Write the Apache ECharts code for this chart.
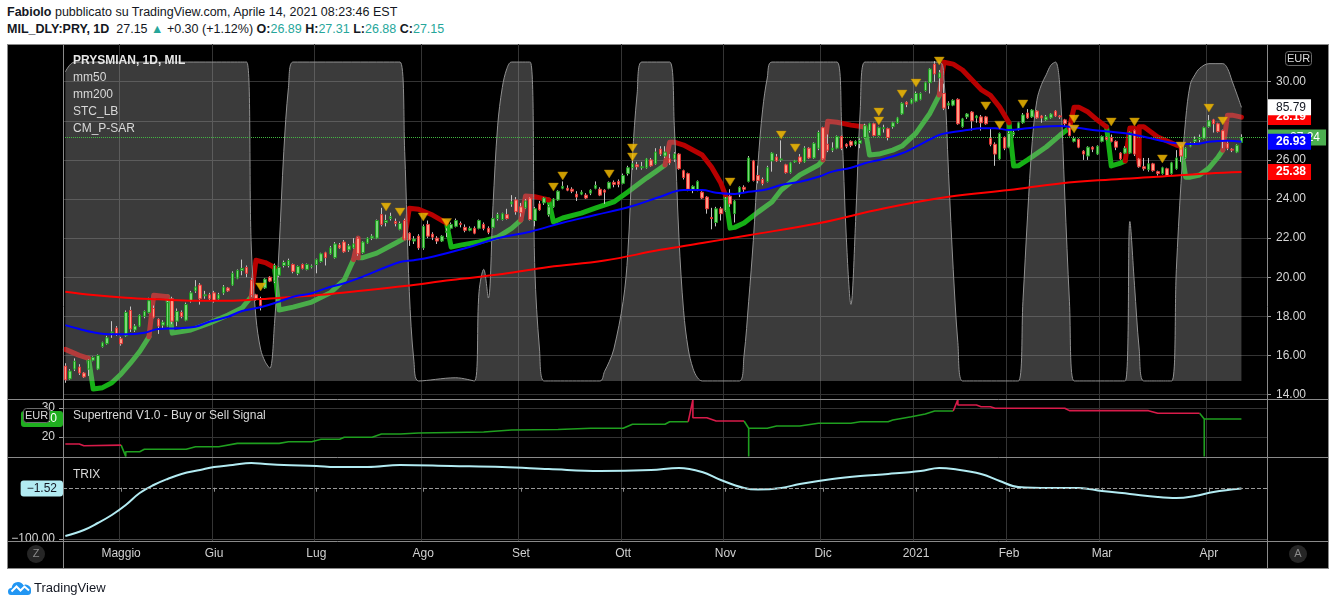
<!DOCTYPE html>
<html>
<head>
<meta charset="utf-8">
<title>PRYSMIAN 1D</title>
<script src="https://cdn.jsdelivr.net/npm/echarts@6/dist/echarts.min.js"></script>
<style>
 html,body{margin:0;padding:0;background:#fff;}
 body{width:1336px;height:606px;overflow:hidden;position:relative;font-family:'Liberation Sans',Arial,sans-serif;}
 .hdr{position:absolute;left:7px;font-size:12.5px;line-height:16px;color:#131722;white-space:nowrap;}
 .t{color:#26a69a;}
 #frame{position:absolute;left:7px;top:44px;width:1322px;height:525px;background:#000;box-sizing:border-box;border:1px solid #8a8a8a;}
 #chart{position:absolute;left:0;top:0;width:1336px;height:606px;}
 #foot{position:absolute;left:8px;top:578px;height:18px;display:flex;align-items:center;font-size:13px;color:#131722;}
</style>
</head>
<body>
<div class="hdr" style="top:4px"><b>Fabiolo</b> pubblicato su TradingView.com, Aprile 14, 2021 08:23:46 EST</div>
<div class="hdr" style="top:21px"><b>MIL_DLY:PRY, 1D</b>&nbsp; 27.15 <span class="t">&#9650;</span> +0.30 (+1.12%) <b>O:</b><span class="t">26.89</span> <b>H:</b><span class="t">27.31</span> <b>L:</b><span class="t">26.88</span> <b>C:</b><span class="t">27.15</span></div>
<div id="frame"></div>
<div id="chart"></div>
<div id="foot"><svg width="24" height="17" viewBox="0 0 24 17"><path d="M3 16 Q0 16 0 12.5 Q0 9 3.5 9 Q4.5 3 10 3 Q14 3 15.5 6.5 Q17 5 19.5 6 Q23.5 7.5 23 11.5 Q23.5 16 19.5 16 Z" fill="#2196f3"/><polyline points="3.5,12.5 8.5,7.5 12.5,11.5 16.5,7.5 21,11.5" fill="none" stroke="#fff" stroke-width="2"/></svg><span style="margin-left:2px">TradingView</span></div>
<script>
// ---------- categories: trading days ----------
const apr20=[15,16,17,20,21,22,23,24,27,28,29,30];
const may20=[4,5,6,7,8,11,12,13,14,15,18,19,20,21,22,25,26,27,28,29];
const jun20=[1,2,3,4,5,8,9,10,11,12,15,16,17,18,19,22,23,24,25,26,29,30];
const jul20=[1,2,3,6,7,8,9,10,13,14,15,16,17,20,21,22,23,24,27,28,29,30,31];
const aug20=[3,4,5,6,7,10,11,12,13,14,17,18,19,20,21,24,25,26,27,28,31];
const sep20=[1,2,3,4,7,8,9,10,11,14,15,16,17,18,21,22,23,24,25,28,29,30];
const oct20=[1,2,5,6,7,8,9,12,13,14,15,16,19,20,21,22,23,26,27,28,29,30];
const nov20=[2,3,4,5,6,9,10,11,12,13,16,17,18,19,20,23,24,25,26,27,30];
const dec20=[1,2,3,4,7,8,9,10,11,14,15,16,17,18,21,22,23,28,29,30];
const jan21=[4,5,6,7,8,11,12,13,14,15,18,19,20,21,22,25,26,27,28,29];
const feb21=[1,2,3,4,5,8,9,10,11,12,15,16,17,18,19,22,23,24,25,26];
const mar21=[1,2,3,4,5,8,9,10,11,12,15,16,17,18,19,22,23,24,25,26,29,30,31];
const apr21=[1,6,7,8,9,12,13,14];
const monthLabels=['2021','Feb','Mar','Apr','Maggio','Giu','Lug','Ago','Set','Ott','Nov','Dic'];
const priceTicks=[14,16,18,20,22,24,26,28,30];

// ---------- OHLC ----------
const open=[15.45,14.8,15.3,15.4,15.1,15.3,15.75,15.3,16.45,16.6,
17.15,17.4,16.85,17.0,18.3,17.3,17.5,18.0,18.2,18.4,
17.85,17.55,17.5,18.9,17.75,18.2,17.8,18.8,19.3,19.6,
19.05,19.1,19.2,18.9,19.2,19.45,19.6,19.95,20.35,20.5,
19.85,19.1,18.9,19.45,20.0,19.8,20.1,20.6,20.6,20.65,
20.2,20.65,20.4,20.53,20.65,20.8,21.25,21.2,21.0,21.65,
21.8,21.4,21.5,22.0,21.25,21.75,22.0,22.0,23.2,22.8,
23.0,22.85,22.45,22.9,22.25,21.85,22.1,21.5,22.7,22.2,
22.0,21.85,22.3,22.5,22.6,22.75,22.55,22.4,22.5,22.5,
22.7,22.5,22.55,23.0,22.95,23.2,23.75,23.95,23.6,23.55,
24.05,22.9,23.75,23.8,23.2,23.6,23.95,24.55,24.55,24.5,
24.25,24.25,24.2,24.3,24.55,24.5,24.45,24.55,24.85,24.9,
24.8,25.3,25.6,25.75,25.6,25.6,26.0,25.8,26.55,26.2,
26.05,26.05,26.3,25.45,25.3,24.45,24.45,24.35,24.1,23.05,
22.8,23.5,23.4,24.15,23.25,24.25,24.6,24.9,25.95,25.2,
25.0,24.9,25.95,26.15,26.0,25.75,25.35,25.9,26.15,25.9,
26.6,26.1,26.6,27.65,26.8,26.5,26.6,27.2,26.8,26.95,
26.8,26.85,27.15,27.5,27.85,27.25,27.6,27.6,27.7,27.9,
28.35,28.95,28.9,29.0,29.1,29.55,29.95,30.9,30.2,29.4,
28.8,28.8,29.1,27.7,28.2,28.45,28.15,28.2,28.2,27.1,
26.8,26.05,27.15,26.65,27.3,27.6,27.9,28.4,28.2,28.5,
28.25,28.05,28.15,28.5,28.25,28.05,27.85,26.95,27.05,26.45,
26.2,26.65,26.3,26.95,27.15,27.15,26.95,26.35,26.35,26.35,
27.5,26.05,25.65,25.5,25.8,25.4,25.3,25.55,25.3,25.55,
26.6,26.1,26.7,26.95,27.05,27.1,27.7,28.05,27.85,27.5,
26.85,26.55,26.4,26.89];
const close=[14.75,15.2,15.7,15.1,14.9,15.75,15.9,16.0,16.65,16.9,
17.2,17.1,16.6,18.2,17.35,17.5,18.05,18.25,18.8,17.95,
17.5,17.7,18.7,17.75,18.25,18.0,18.6,19.2,19.5,18.9,
19.1,18.9,18.8,19.1,19.5,19.3,20.2,20.35,20.45,20.2,
19.1,18.9,18.55,19.9,19.8,20.6,20.5,20.75,20.85,20.3,
20.55,20.45,20.65,20.57,20.9,21.2,21.0,21.5,21.7,21.5,
21.3,21.6,21.7,21.2,21.8,22.0,22.1,22.9,22.7,22.9,
23.1,22.75,22.75,21.95,21.9,21.95,21.5,22.6,22.1,22.05,
21.85,22.1,22.35,22.7,22.9,22.7,22.4,22.5,22.25,22.9,
22.5,22.3,23.0,23.2,23.25,23.0,23.85,23.35,23.3,23.9,
22.95,23.5,23.45,24.05,23.6,24.0,24.4,24.65,24.45,24.4,
24.1,24.35,24.05,24.45,24.7,24.2,24.35,24.85,24.75,24.75,
25.2,25.6,25.8,25.65,25.65,26.05,25.7,26.4,26.3,26.4,
25.85,26.3,25.55,25.1,24.5,24.65,24.9,24.05,23.5,23.0,
23.5,23.25,24.0,23.75,23.9,24.6,24.5,26.1,24.95,24.95,
24.8,25.6,26.35,25.95,26.05,25.35,25.85,25.95,25.9,26.6,
26.1,26.85,27.4,26.05,26.5,26.6,27.2,26.6,26.7,26.75,
26.95,27.0,27.75,27.85,27.25,27.65,27.65,27.15,27.9,28.15,
28.9,28.85,29.1,29.4,29.4,29.95,30.65,30.4,30.45,28.65,
28.9,29.05,27.85,28.1,28.35,28.0,28.25,27.9,27.85,26.8,
26.3,27.35,26.6,27.35,27.4,27.9,28.3,28.15,28.55,28.15,
28.15,28.2,28.35,28.25,28.2,27.85,27.25,27.1,26.65,26.3,
26.65,26.55,26.7,27.2,27.05,26.95,26.65,26.05,26.6,27.4,
26.3,25.65,25.55,25.8,25.45,25.3,25.6,25.2,25.85,26.1,
26.2,26.6,26.85,27.05,27.15,27.65,28.0,27.85,27.45,26.95,
26.6,26.5,26.75,27.15];
const low=[14.6,14.75,15.2,15.0,14.85,14.95,15.7,15.25,16.4,16.55,
16.9,17.0,16.5,16.95,17.2,17.2,17.45,17.9,18.15,17.9,
17.1,17.4,17.45,17.6,17.5,17.9,17.75,18.7,19.2,18.6,
18.9,18.8,18.7,18.85,19.1,19.25,19.55,19.9,20.1,20.0,
19.0,18.8,18.3,19.4,19.75,19.7,20.0,20.5,20.5,20.2,
20.1,20.4,20.35,20.45,20.2,20.75,20.6,21.15,20.95,21.45,
21.25,21.3,21.45,21.1,21.2,21.7,21.9,21.95,22.6,22.6,
22.9,22.6,22.4,21.9,21.6,21.7,21.4,21.4,22.0,21.9,
21.7,21.8,22.05,22.45,22.55,22.55,22.3,22.35,22.2,22.45,
22.4,22.2,22.5,22.9,22.9,22.95,23.6,23.2,23.1,23.5,
22.9,22.6,23.4,23.7,23.1,23.55,23.9,24.5,24.4,24.3,
23.9,24.2,24.0,24.2,24.5,24.15,23.75,24.5,24.6,24.6,
24.75,25.2,25.5,25.5,25.5,25.55,25.65,25.75,26.2,26.1,
25.75,25.9,25.5,25.0,24.4,24.3,24.4,24.0,23.25,22.45,
22.6,22.9,23.35,23.6,22.8,24.1,24.3,24.85,24.9,24.8,
24.7,24.85,25.4,25.9,25.9,25.3,25.3,25.85,25.8,25.85,
26.05,26.05,26.5,26.0,26.4,26.4,26.55,26.5,26.6,26.65,
26.7,26.6,27.1,27.4,27.2,27.2,27.4,27.0,27.6,27.85,
28.3,28.7,28.85,28.95,29.05,29.5,29.4,30.0,29.5,28.55,
28.6,28.75,27.8,27.65,28.1,27.5,27.9,27.5,27.8,26.7,
25.7,26.0,26.5,26.6,27.2,27.5,27.85,28.1,28.15,28.1,
27.9,28.0,28.1,28.2,28.1,27.7,27.2,26.9,26.6,26.0,
26.0,26.4,26.25,26.9,27.0,26.9,26.5,26.0,26.3,26.3,
26.2,25.6,25.45,25.4,25.4,25.2,25.25,25.15,25.25,25.5,
25.9,26.05,26.65,26.85,26.9,27.05,27.65,27.4,27.4,26.6,
26.5,26.4,26.35,26.88];
const high=[15.6,15.3,15.85,15.55,15.15,15.8,15.95,16.05,16.7,17.0,
17.75,17.5,16.95,18.3,18.5,17.6,18.1,18.3,18.95,18.55,
17.9,17.8,18.8,19.0,18.4,18.3,18.7,19.3,19.85,19.7,
19.3,19.2,19.3,19.2,19.6,19.5,20.3,20.4,20.9,20.6,
19.95,19.15,19.0,19.95,20.05,20.7,20.55,20.85,20.95,20.7,
20.6,20.7,20.7,20.65,20.95,21.25,21.3,21.6,21.8,21.75,
21.9,21.7,22.0,22.05,21.85,22.05,22.2,22.95,23.55,23.2,
23.3,23.0,22.85,23.0,22.3,22.1,22.2,22.7,22.9,22.3,
22.1,22.15,22.5,22.8,23.0,22.85,22.7,22.6,22.6,22.95,
22.8,22.6,23.05,23.3,23.3,23.5,24.2,24.1,23.8,24.0,
24.1,23.6,23.9,24.1,23.7,24.05,24.45,24.9,24.7,24.6,
24.4,24.45,24.3,24.5,24.9,24.6,24.5,24.9,24.95,25.0,
25.3,25.7,26.0,25.9,25.9,26.1,26.1,26.6,26.7,26.7,
26.3,26.4,26.35,25.5,25.35,24.7,24.95,24.4,24.15,23.55,
23.6,23.6,24.1,24.5,23.95,24.65,24.7,26.2,26.0,25.7,
25.1,25.7,26.4,26.3,27.0,25.8,25.9,26.0,26.3,26.7,
26.65,26.9,27.5,27.7,27.3,26.9,27.25,27.25,26.85,27.0,
27.0,27.1,27.85,27.9,27.9,27.7,27.8,27.65,27.95,28.2,
28.95,29.0,29.15,29.5,29.45,30.0,30.7,31.05,30.6,29.9,
29.0,29.1,29.15,28.15,28.4,28.5,28.3,28.3,28.25,27.6,
26.9,27.4,27.2,27.45,27.5,27.95,28.4,28.6,28.6,28.55,
28.3,28.3,28.4,28.55,28.3,28.1,27.9,27.2,27.1,26.5,
26.7,26.7,26.75,27.25,27.2,27.3,27.0,26.4,26.7,27.45,
27.55,26.1,26.1,26.1,25.85,25.45,25.65,25.6,25.9,26.5,
26.7,26.65,26.9,27.2,27.3,27.7,28.3,28.1,27.9,27.55,
27.0,26.6,26.8,27.31];

// ---------- overlays: [barIndex, value] ----------
const mm50=[[0,17.55],[3,17.35],[6,17.18],[10,17.08],[13,17.08],[17,17.16],[20,17.35],[24,17.39],[28,17.47],[31,17.72],[35,17.98],[38,18.27],[42,18.46],[46,18.75],[49,19.0],[53,19.18],[56,19.43],[60,19.69],[63,19.94],[72,20.78],[75,20.87],[79,21.05],[86,21.48],[93,21.99],[100,22.33],[107,22.79],[114,23.18],[122,23.64],[128,24.12],[133,24.46],[137,24.46],[140,24.32],[144,24.26],[147,24.37],[151,24.5],[154,24.72],[158,24.88],[162,25.14],[165,25.4],[169,25.6],[172,25.83],[176,26.05],[180,26.34],[183,26.68],[186,27.05],[188,27.28],[190,27.39],[194,27.53],[197,27.62],[200,27.62],[203,27.53],[207,27.62],[210,27.7],[214,27.73],[216,27.7],[221,27.53],[225,27.44],[228,27.36],[232,27.19],[235,27.02],[239,26.85],[243,26.81],[246,26.93],[250,26.98],[253,26.93]];
const mm200=[[0,19.26],[6,19.09],[13,18.95],[20,18.87],[28,18.8],[35,18.8],[42,18.88],[49,19.0],[56,19.12],[63,19.29],[73,19.55],[83,19.86],[94,20.16],[104,20.52],[116,20.85],[128,21.4],[137,21.75],[147,22.15],[162,22.76],[176,23.52],[190,24.12],[203,24.46],[214,24.8],[225,25.0],[235,25.14],[246,25.31],[253,25.38]];
const stc=[[0,96.9],[2,100],[39,100],[40,42],[41,20],[42,10],[43,6],[44,4],[45,18],[46,42],[47,72],[48,92],[49,100],[72,100],[73,72],[74,28],[75,6],[76,0],[84,1],[88,0],[89,28],[90,35],[91,26],[92,55],[93,80],[94,92],[95,98],[96,100],[100,100],[101,35],[102,10],[103,0],[115,0],[116,3],[117,6],[118,10],[120,25],[121,40],[122,70],[123,90],[124,100],[130,100],[131,80],[132,45],[133,22],[134,10],[135,4],[136,1],[137,0],[145,0],[146,8],[147,25],[148,44],[149,68],[150,85],[151,95],[152,100],[166,100],[167,80],[168,45],[169,24],[170,50],[171,85],[172,100],[188,100],[189,95],[190,65],[191,35],[192,12],[193,0],[205,0],[206,25],[207,52],[208,75],[209,88],[210,93],[211,96],[212,99],[213,100],[214,91],[215,58],[216,25],[217,0],[228,0],[229,50],[230,30],[231,10],[232,0],[238,0],[239,35],[240,62],[241,82],[242,93],[243,96],[244,98],[246,99.5],[249,99.5],[250,98],[251,94],[252,90],[253,85.79]];
const psarRed=[
 [[0,16.31],[3,16.0],[5,15.85]],
 [[18,16.95],[19,19.08],[20,19.05],[22,19.0]],
 [[40,19.0],[41,20.87],[43,20.75],[45,20.5]],
 [[62,20.9],[63,22.0],[63,21.0]],
 [[73,22.0],[74,23.53],[76,23.48],[79,23.18],[82,22.77]],
 [[98,22.92],[99,24.15],[101,24.12],[104,23.95]],
 [[129,25.74],[130,26.91],[131,26.91],[133,26.76],[137,26.25],[139,25.64],[141,24.82],[142,24.2]],
 [[163,26.0],[164,27.98],[166,27.93],[169,27.78],[172,27.68]],
 [[188,29.32],[189,31.0],[191,30.9],[193,30.6],[195,30.1],[197,29.6],[199,29.3],[201,28.7],[203,27.9]],
 [[216,27.63],[217,28.7],[218,28.7],[220,28.45],[222,28.04],[224,27.68]],
 [[228,25.95],[229,27.63],[230,27.63],[231,25.8],[231,27.7],[232,27.7],[235,27.17],[239,26.76],[240,26.7]],
 [[249,26.5],[250,28.29],[251,28.29],[253,28.19]]
];
const psarGreen=[
 [[5,15.85],[6,14.28],[8,14.35],[10,14.6],[12,15.05],[14,15.6],[16,16.2],[18,16.95]],
 [[22,19.0],[23,17.14],[27,17.3],[31,17.65],[35,18.07],[38,18.42],[40,19.0]],
 [[45,20.5],[46,18.32],[49,18.47],[53,18.73],[57,19.2],[60,19.86],[62,20.9]],
 [[63,21.0],[64,21.0],[67,21.23],[71,21.74],[73,22.0]],
 [[82,22.77],[83,21.54],[85,21.64],[89,21.8],[93,22.05],[96,22.5],[98,22.92]],
 [[104,23.95],[105,22.82],[107,23.03],[111,23.28],[114,23.53],[118,23.85],[121,24.36],[125,25.07],[127,25.4],[129,25.74]],
 [[142,24.2],[143,22.51],[144,22.55],[146,22.77],[149,23.33],[152,23.85],[154,24.46],[158,25.23],[162,25.74],[163,26.0]],
 [[172,27.68],[173,26.25],[175,26.3],[178,26.5],[180,26.71],[183,27.37],[186,28.39],[188,29.32]],
 [[203,27.9],[204,25.69],[205,25.7],[207,26.0],[211,26.66],[214,27.27],[216,27.63]],
 [[224,27.68],[225,25.69],[227,25.84],[228,25.95]],
 [[240,26.7],[241,25.12],[242,25.12],[244,25.23],[246,25.58],[248,26.15],[249,26.5]]
];
const signals=[[42,19.5],[69,23.59],[72,23.33],[77,23.08],[82,22.8],[105,24.61],[107,25.18],[117,25.28],[122,26.61],[122,26.15],[143,24.87],[154,27.27],[157,26.61],[175,28.45],[175,27.99],[180,29.37],[183,29.93],[188,31.06],[198,28.76],[201,27.78],[206,28.86],[217,28.09],[217,27.58],[225,27.94],[230,27.94],[236,26.05],[240,26.71],[246,28.65],[249,27.99]];
const stRed=[
 [[0,17.59],[3,17.59],[4,17.0],[12,17.2]],
 [[134,25.28],[135,32.9],[135,26.66],[138,26.66],[140,25.5],[146,25.5]],
 [[191,28.97],[192,32.9],[192,31.03],[196,31.03],[197,30.45],[199,30.45],[200,29.9],[215,29.9],[216,29.08],[233,29.08],[235,28.17],[244,28.17]]
];
const stGreen=[
 [[12,17.2],[13,13.3],[13,14.93],[16,14.93],[17,15.76],[26,15.76],[28,16.66],[33,16.66],[37,17.8],[46,17.8],[48,18.38],[53,18.38],[55,19.2],[59,19.2],[60,19.9],[66,19.9],[68,21.03],[72,21.03],[76,21.4],[90,21.7],[96,22.4],[106,22.6],[113,23.0],[120,23.0],[122,24.38],[129,24.38],[130,25.28],[134,25.28]],
 [[146,25.5],[147,23.0],[147,13.3],[147,23.0],[151,23.0],[153,23.8],[158,23.8],[162,24.72],[169,24.72],[171,25.28],[177,25.28],[178,25.86],[182,27.0],[185,27.93],[187,28.97],[191,28.97]],
 [[244,28.17],[245,26.2],[245,13.3],[245,26.2],[253,26.2]]
];
const trix=[[0,-94.2],[4,-82.4],[7,-68.8],[10,-53.2],[13,-33.7],[16,-10.3],[19,5.3],[22,17.1],[25,26.8],[29,34.6],[32,40.4],[36,44.3],[40,48.2],[43,46.3],[47,44.3],[54,42.4],[58,40.4],[65,40.4],[72,44.3],[83,42.4],[94,40.4],[104,36.5],[115,32.6],[126,34.6],[132,38.5],[137,30.7],[141,15.1],[146,-0.5],[149,-3.5],[154,-0.5],[158,7.3],[165,17.1],[171,22.9],[177,26.8],[184,32.6],[188,38.5],[191,36.5],[197,26.8],[201,13.1],[205,1.4],[212,-0.5],[218,-0.5],[223,-6.4],[229,-12.2],[235,-18.1],[239,-20.0],[243,-16.1],[247,-8.3],[253,-1.52]];

// ---------- build ----------
const FONT="'Liberation Sans', Arial, sans-serif";
const monthArrays=[['2020-04',apr20],['2020-05',may20],['2020-06',jun20],['2020-07',jul20],['2020-08',aug20],['2020-09',sep20],['2020-10',oct20],['2020-11',nov20],['2020-12',dec20],['2021-01',jan21],['2021-02',feb21],['2021-03',mar21],['2021-04',apr21]];
const dates=[];
monthArrays.forEach(([m,ds])=>ds.forEach(d=>dates.push(m+'-'+String(d).padStart(2,'0'))));
const categories=dates.concat(['p1','p2','p3','p4','p5']);
const isMonthStart=(i)=> i>0 && i<dates.length && dates[i].slice(0,7)!==dates[i-1].slice(0,7);
const monthFmt=(v)=>{ if(!/^\d{4}-/.test(v)) return ''; return monthLabels[parseInt(v.slice(5,7),10)-1]; };

const wickData=open.map((o,i)=>[o,close[i],low[i],high[i]]);
const bodyData=open.map((o,i)=>[o,close[i],Math.min(o,close[i]),Math.max(o,close[i])]);
function joinSegs(segs){const out=[];segs.forEach((s,k)=>{if(k)out.push([s[0][0],null]);s.forEach(p=>out.push(p));});return out;}

const NOLINE={color:'rgba(0,0,0,0)',width:1,opacity:1};
function badge(value,text,bg,fg,pos,z,bold){
  return {silent:true,symbol:['none','none'],z:z,animation:false,
    lineStyle:NOLINE,
    label:{show:true,position:pos,formatter:text,backgroundColor:bg,color:fg,fontSize:12,fontFamily:FONT,
      fontWeight:bold?'bold':'normal',padding:pos==='end'?[2,5,2,9]:[2,6,2,6],distance:0,borderRadius:pos==='end'?0:3},
    data:[{yAxis:value}]};
}

const xBase=(gi,showLabel)=>({
  type:'category',gridIndex:gi,data:categories,boundaryGap:true,
  axisLine:{show:false},
  axisTick:{show:showLabel,interval:isMonthStart,alignWithLabel:true,length:4,lineStyle:{color:'#8a8a8a'}},
  axisLabel:{show:showLabel,interval:isMonthStart,formatter:monthFmt,color:'#d0d0d0',fontSize:12,fontFamily:FONT,margin:7},
  splitLine:{show:true,interval:isMonthStart,lineStyle:{color:'#343434'}}
});

const lbl={color:'#d6d6d6',fontSize:12,fontFamily:FONT};
const G=[];
const gl=(x1,y1,x2,y2)=>({type:'line',z:100,silent:true,shape:{x1,y1,x2,y2},style:{stroke:'#8a8a8a',lineWidth:1}});
const gt=(x,y,text,fill,size,weight,align)=>({type:'text',z:103,silent:true,x:x,y:y,style:{text:text,fill:fill,font:(weight||'normal')+' '+size+'px '+FONT,align:align||'left',verticalAlign:'middle',textAlign:align||'left',textVerticalAlign:'middle'}});
G.push(gl(63.5,44,63.5,569),gl(1267.5,44,1267.5,569),gl(7,399.5,1329,399.5),gl(7,457.5,1329,457.5),gl(7,541.5,1329,541.5));
G.push(gt(73,61,'PRYSMIAN, 1D, MIL','#e6e6e6',12,'bold'));
G.push(gt(73,78,'mm50','#d8d8d8',12));
G.push(gt(73,95,'mm200','#d8d8d8',12));
G.push(gt(73,112,'STC_LB','#d8d8d8',12));
G.push(gt(73,128.5,'CM_P-SAR','#d8d8d8',12));
G.push(gt(73,416,'Supertrend V1.0 - Buy or Sell Signal','#d8d8d8',12));
G.push(gt(73,475,'TRIX','#d8d8d8',12));
// EUR badges
G.push({type:'rect',z:102,silent:true,shape:{x:1285.5,y:51.5,width:26,height:14,r:3},style:{fill:'#000',stroke:'#6a6a6a',lineWidth:1}});
G.push(gt(1298.5,58.5,'EUR','#dcdcdc',11,'normal','center'));
G.push({type:'rect',z:102,silent:true,shape:{x:23.5,y:408.5,width:26,height:14,r:3},style:{fill:'#000',stroke:'#6a6a6a',lineWidth:1}});
G.push(gt(36.5,415.5,'EUR','#dcdcdc',11,'normal','center'));
// bottom buttons
G.push({type:'circle',z:102,silent:true,shape:{cx:36,cy:554,r:9},style:{fill:'#262626'}});
G.push(gt(36,554,'Z','#8a8a8a',11,'normal','center'));
G.push({type:'circle',z:102,silent:true,shape:{cx:1298,cy:554,r:9},style:{fill:'#262626'}});
G.push(gt(1298,554,'A','#8a8a8a',11,'normal','center'));

const chart=echarts.init(document.getElementById('chart'),null,{renderer:'canvas'});
chart.setOption({
  animation:false,
  backgroundColor:'transparent',
  textStyle:{fontFamily:FONT},
  grid:[
    {left:63,right:69,top:44,height:355},
    {left:63,right:69,top:399,height:58},
    {left:63,right:69,top:457,height:84}
  ],
  xAxis:[xBase(0,false),xBase(1,false),xBase(2,true)],
  yAxis:[
    {gridIndex:0,type:'value',position:'right',min:13.77,max:31.93,
      axisLine:{show:false},
      axisTick:{show:true,customValues:priceTicks,length:4,lineStyle:{color:'#9a9a9a'}},
      axisLabel:Object.assign({customValues:priceTicks,formatter:v=>v.toFixed(2),margin:9},lbl),
      splitLine:{show:true,lineStyle:{color:'#343434'}}},
    {gridIndex:0,type:'value',min:-5.66,max:105.66,show:false,splitLine:{show:false}},
    {gridIndex:1,type:'value',position:'left',min:13.1,max:33.1,
      axisLine:{show:false},
      axisTick:{show:true,customValues:[20,30],length:4,lineStyle:{color:'#9a9a9a'}},
      axisLabel:Object.assign({customValues:[20,30],margin:8},lbl),
      splitLine:{show:true,lineStyle:{color:'#343434'}}},
    {gridIndex:2,type:'value',position:'left',min:-103.9,max:59.9,
      axisLine:{show:false},
      axisTick:{show:true,customValues:[-100],length:4,lineStyle:{color:'#9a9a9a'}},
      axisLabel:Object.assign({customValues:[-100],formatter:()=>'\u2212100.00',margin:8},lbl),
      splitLine:{show:true,lineStyle:{color:'#4a4a4a'}}}
  ],
  graphic:{elements:G},
  series:[
    {name:'psarGreen',type:'line',xAxisIndex:0,yAxisIndex:0,data:joinSegs(psarGreen),showSymbol:false,silent:true,z:2,
      lineStyle:{color:'#16b016',width:5,cap:'round',join:'round'}},
    {name:'psarRed',type:'line',xAxisIndex:0,yAxisIndex:0,data:joinSegs(psarRed),showSymbol:false,silent:true,z:2,
      lineStyle:{color:'#b80000',width:5,cap:'round',join:'round'},
      markLine:badge(28.19,'28.19','#ff0000','#fff','end',11,true)},
    {name:'STC_LB',type:'line',xAxisIndex:0,yAxisIndex:1,data:stc,smooth:0.35,showSymbol:false,silent:true,z:3,
      lineStyle:{color:'#909090',width:1},areaStyle:{color:'rgba(166,166,166,0.5)',origin:'auto'},
      markLine:badge(85.79,'85.79','#ffffff','#131722','end',12,false)},
    {name:'wicks',type:'candlestick',xAxisIndex:0,yAxisIndex:0,data:wickData,barWidth:1,silent:true,z:5,
      itemStyle:{color:'#c4c4c4',color0:'#c4c4c4',borderColor:'#c4c4c4',borderColor0:'#c4c4c4',borderWidth:1},
      markLine:{silent:true,symbol:['none','none'],z:5,animation:false,
        lineStyle:{type:'dotted',color:'#43b843',width:1,opacity:1},
        label:{show:true,position:'end',formatter:'27.24',backgroundColor:'#4caf50',color:'#fff',fontSize:12,fontFamily:FONT,padding:[2,6,2,23],distance:0},
        data:[{yAxis:27.15}]}},
    {name:'bodies',type:'candlestick',xAxisIndex:0,yAxisIndex:0,data:bodyData,barWidth:3,silent:true,z:6,
      itemStyle:{color:'#78d878',color0:'#ff9d86',borderColor:'#1e9a1e',borderColor0:'#e23434',borderWidth:1}},
    {name:'mm200',type:'line',xAxisIndex:0,yAxisIndex:0,data:mm200,smooth:0.4,showSymbol:false,silent:true,z:8,
      lineStyle:{color:'#ff0000',width:2},
      markLine:badge(25.38,'25.38','#ff0000','#fff','end',11,true)},
    {name:'mm50',type:'line',xAxisIndex:0,yAxisIndex:0,data:mm50,smooth:0.4,showSymbol:false,silent:true,z:8,
      lineStyle:{color:'#0000ff',width:2},
      markLine:badge(26.93,'26.93','#0000ff','#fff','end',12,true)},
    {name:'signals',type:'scatter',xAxisIndex:0,yAxisIndex:0,data:signals,symbol:'triangle',symbolRotate:180,symbolSize:[10,8],silent:true,z:9,
      itemStyle:{color:'#ffc400',borderColor:'#b88600',borderWidth:0.5}},
    {name:'stGreen',type:'line',xAxisIndex:1,yAxisIndex:2,data:joinSegs(stGreen),showSymbol:false,silent:true,z:4,
      lineStyle:{color:'#1f9f1f',width:1.6},
      markLine:badge(26.2,'26.20','#1fae1f','#fff','start',11,false)},
    {name:'stRed',type:'line',xAxisIndex:1,yAxisIndex:2,data:joinSegs(stRed),showSymbol:false,silent:true,z:4,
      lineStyle:{color:'#d81b4a',width:1.6}},
    {name:'TRIX',type:'line',xAxisIndex:2,yAxisIndex:3,data:trix,smooth:0.4,showSymbol:false,silent:true,z:4,
      lineStyle:{color:'#b2ebf2',width:2},
      markLine:{silent:true,symbol:['none','none'],z:11,animation:false,
        lineStyle:{type:'dashed',color:'#9a9a9a',width:1,opacity:1},
        label:{show:true,position:'start',formatter:'\u22121.52',backgroundColor:'#b2ebf2',color:'#131722',fontSize:12,fontFamily:FONT,padding:[2,6,2,6],distance:0,borderRadius:3},
        data:[{yAxis:-1.52}]}}
  ]
});
</script>
</body>
</html>
